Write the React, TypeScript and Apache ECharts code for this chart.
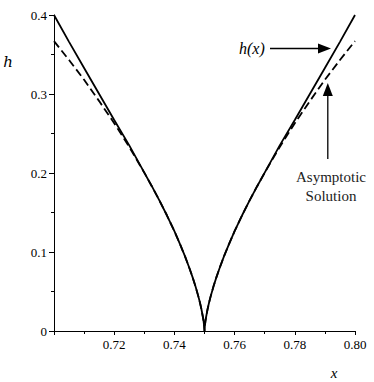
import React, { useEffect, useRef } from "react";
import * as echarts from "echarts";

// x positions (left branch, cusp, right branch)
const xValues = [
  0.7, 0.705, 0.71, 0.715, 0.72, 0.725, 0.73, 0.7325, 0.735, 0.7375, 0.74, 0.742,
  0.7435, 0.745, 0.746, 0.747, 0.748, 0.7485, 0.749, 0.7495, 0.7497, 0.7499, 0.75,
  0.7501, 0.7503, 0.7505, 0.751, 0.7515, 0.752, 0.753, 0.754, 0.755, 0.7565, 0.758,
  0.76, 0.7625, 0.765, 0.7675, 0.77, 0.775, 0.78, 0.785, 0.79, 0.795, 0.8,
];

// h(x) – solid curve
const hSolid = [
  0.4, 0.366, 0.333, 0.3, 0.267, 0.235, 0.2004, 0.1833, 0.1654, 0.1465, 0.1263, 0.1088,
  0.0947, 0.0795, 0.0685, 0.0566, 0.0432, 0.0357, 0.0272, 0.0171, 0.0122, 0.0059, 0,
  0.0059, 0.0122, 0.0171, 0.0272, 0.0357, 0.0432, 0.0566, 0.0685, 0.0795, 0.0947, 0.1088,
  0.1263, 0.1465, 0.1654, 0.1833, 0.2004, 0.235, 0.267, 0.3, 0.333, 0.366, 0.4,
];

// Asymptotic solution – dashed curve
const hAsymptotic = [
  0.367, 0.343, 0.318, 0.291, 0.263, 0.233, 0.2004, 0.1833, 0.1654, 0.1465, 0.1263, 0.1088,
  0.0947, 0.0795, 0.0685, 0.0566, 0.0432, 0.0357, 0.0272, 0.0171, 0.0122, 0.0059, 0,
  0.0059, 0.0122, 0.0171, 0.0272, 0.0357, 0.0432, 0.0566, 0.0685, 0.0795, 0.0947, 0.1088,
  0.1263, 0.1465, 0.1654, 0.1833, 0.2004, 0.233, 0.263, 0.291, 0.318, 0.343, 0.367,
];

const xTickLabels = ["", "0.72", "0.74", "0.76", "0.78", "0.80"];
const yTickLabels = ["0", "0.1", "0.2", "0.3", "0.4"];

const SERIF = "Liberation Serif";

export default function App() {
  const ref = useRef<HTMLDivElement>(null);

  useEffect(() => {
    if (!ref.current) return;
    const chart = echarts.init(ref.current, undefined, { renderer: "svg" });
    const solidData = xValues.map((x, i) => [x, hSolid[i]]);
    const asymData = xValues.map((x, i) => [x, hAsymptotic[i]]);

    chart.setOption({
      animation: false,
      backgroundColor: "#ffffff",
      textStyle: { fontFamily: SERIF },
      grid: { left: 54, right: 19, top: 15, bottom: 51, containLabel: false },
      xAxis: {
        type: "value",
        min: 0.7,
        max: 0.8,
        interval: 0.02,
        axisLine: { show: true, onZero: false, lineStyle: { color: "#000", width: 1 } },
        axisTick: { show: true, inside: false, length: 4, lineStyle: { color: "#000" } },
        minorTick: { show: true, splitNumber: 2, length: 3, lineStyle: { color: "#000" } },
        splitLine: { show: false },
        axisLabel: {
          color: "#000",
          fontFamily: SERIF,
          fontSize: 13,
          margin: 7,
          formatter: (v: number) => {
            const idx = Math.round((v - 0.7) / 0.02);
            return xTickLabels[idx] ?? "";
          },
        },
      },
      yAxis: {
        type: "value",
        min: 0,
        max: 0.4,
        interval: 0.1,
        axisLine: { show: true, onZero: false, lineStyle: { color: "#000", width: 1 } },
        axisTick: { show: true, inside: false, length: 5, lineStyle: { color: "#000" } },
        minorTick: { show: true, splitNumber: 2, length: 3, lineStyle: { color: "#000" } },
        splitLine: { show: false },
        axisLabel: {
          color: "#000",
          fontFamily: SERIF,
          fontSize: 13,
          margin: 7,
          formatter: (v: number) => {
            const idx = Math.round(v / 0.1);
            return yTickLabels[idx] ?? "";
          },
        },
      },
      series: [
        {
          name: "Asymptotic Solution",
          type: "line",
          data: asymData,
          showSymbol: false,
          symbol: "none",
          z: 2,
          lineStyle: { color: "#000", width: 1.8, type: [8, 4] },
        },
        {
          name: "h(x)",
          type: "line",
          data: solidData,
          showSymbol: false,
          symbol: "none",
          z: 3,
          lineStyle: { color: "#000", width: 1.8 },
        },
      ],
      graphic: [
        {
          type: "text",
          x: 8,
          y: 62,
          style: {
            text: "h",
            fontFamily: "DejaVu Serif",
            fontStyle: "italic",
            fontSize: 15,
            fill: "#000",
            align: "center",
            verticalAlign: "middle",
          },
        },
        {
          type: "text",
          x: 334,
          y: 373,
          style: {
            text: "x",
            fontFamily: "serif",
            fontStyle: "italic",
            fontSize: 15,
            fill: "#000",
            align: "center",
            verticalAlign: "middle",
          },
        },
        {
          type: "text",
          x: 239,
          y: 48,
          style: {
            text: "h(x)",
            fontFamily: "Times New Roman",
            fontStyle: "italic",
            fontSize: 16,
            fill: "#000",
            align: "left",
            verticalAlign: "middle",
          },
        },
        {
          type: "line",
          shape: { x1: 270, y1: 48.5, x2: 320, y2: 48.5 },
          style: { stroke: "#000", lineWidth: 1.3 },
        },
        {
          type: "polygon",
          shape: { points: [[331, 48.5], [318, 43.5], [318, 53.5]] },
          style: { fill: "#000" },
        },
        {
          type: "line",
          shape: { x1: 327.8, y1: 159, x2: 327.8, y2: 94 },
          style: { stroke: "#000", lineWidth: 1.3 },
        },
        {
          type: "polygon",
          shape: { points: [[327.8, 83], [322.8, 96], [332.8, 96]] },
          style: { fill: "#000" },
        },
        {
          type: "text",
          x: 331,
          y: 186,
          style: {
            text: "Asymptotic\nSolution",
            fontFamily: SERIF,
            fontSize: 15,
            lineHeight: 19,
            fill: "#222",
            align: "center",
            verticalAlign: "middle",
          },
        },
      ],
    });

    return () => chart.dispose();
  }, []);

  return (
    <div
      ref={ref}
      style={{ position: "fixed", left: 0, top: 0, width: 374, height: 382, background: "#fff" }}
    />
  );
}
